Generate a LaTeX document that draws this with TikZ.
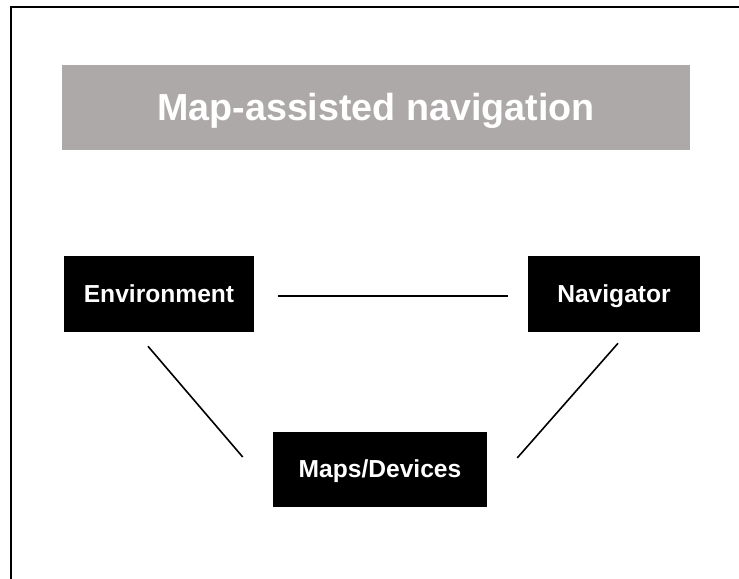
\documentclass[tikz,border=0pt]{standalone}
\usepackage{fontspec}
\setmainfont{Liberation Sans}
\usepackage{tikz}
\usetikzlibrary{positioning}

\definecolor{titlegrey}{RGB}{173,169,168}

\tikzset{
    titlebox/.style={fill=titlegrey,text=white,minimum width=15.7cm,minimum height=2.125cm,
        text height=19.2pt,text depth=1pt,
        font=\fontsize{26.8}{30}\selectfont\bfseries},
    partbox/.style={fill=black,text=white,minimum height=1.9cm,
        text height=12.6pt,text depth=1.2pt,
        font=\fontsize{17.5}{20}\selectfont\bfseries},
    link/.style={line width=0.04cm}
}

\begin{document}
\begin{tikzpicture}
    \useasboundingbox (0,0) rectangle (18.475,14.45);
    % frame, left and top only
    \draw [line width=0.05cm] (0.275,-0.1) -- (0.275,14.275) -- (18.6,14.275);

    \node[titlebox] (title) at (9.4,11.7625) {Map-assisted navigation};

    \node[partbox,minimum width=4.75cm] (env) at (3.975,7.1) {Environment};
    \node[partbox,minimum width=4.3cm] (nav) at (15.35,7.1) {Navigator};
    \node[partbox,minimum width=5.35cm,minimum height=1.875cm] (maps) at (9.5,2.7125) {Maps/Devices};

\draw [link] ([shift={(0.6,-0.05)}]env.east) to ([shift={(-0.5,-0.05)}]nav.west);
\draw [link] ([shift={(-0.275,-0.35)}]env.south) to ([shift={(-0.75,0.3125)}]maps.west);
\draw [link] ([shift={(0.1,-0.275)}]nav.south) to ([shift={(0.75,0.29)}]maps.east);
\end{tikzpicture}
\end{document}
